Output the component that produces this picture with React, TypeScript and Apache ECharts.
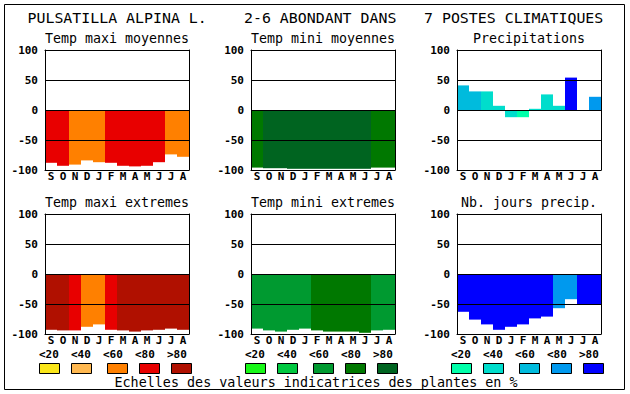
import React, { useEffect, useRef } from 'react';
import * as echarts from 'echarts';

const months = ['S', 'O', 'N', 'D', 'J', 'F', 'M', 'A', 'M', 'J', 'J', 'A'];
const headerTexts = ['PULSATILLA ALPINA L.', '2-6 ABONDANT DANS', '7 POSTES CLIMATIQUES'];
const panelTitles = [
  'Temp maxi moyennes',
  'Temp mini moyennes',
  'Precipitations',
  'Temp maxi extremes',
  'Temp mini extremes',
  'Nb. jours precip.',
];
const scaleLabels = ['<20', '<40', '<60', '<80', '>80'];
const footerText = 'Echelles des valeurs indicatrices des plantes en %';

// values (bar ends) and class index (0..4) for the colour scale
const tempMaxiMoy = [-88, -93, -91, -84, -87, -88, -93, -94, -93, -87, -74, -78];
const tempMaxiMoyCls = [3, 3, 2, 2, 2, 3, 3, 3, 3, 3, 2, 2];
const tempMiniMoy = [-96, -97, -97, -98, -98, -98, -98, -98, -98, -98, -96, -96];
const tempMiniMoyCls = [3, 4, 4, 4, 4, 4, 4, 4, 4, 4, 3, 3];
const precip = [41, 31, 31, 7, -12, -12, 2, 26, 7, 54, 0, 22];
const precipCls = [2, 2, 1, 1, 1, 0, 1, 1, 1, 4, 1, 3];
const tempMaxiExt = [-93, -94, -94, -88, -84, -93, -94, -96, -94, -93, -91, -93];
const tempMaxiExtCls = [4, 4, 3, 2, 2, 3, 4, 4, 4, 4, 4, 4];
const tempMiniExt = [-91, -94, -96, -93, -91, -94, -96, -96, -96, -98, -94, -93];
const tempMiniExtCls = [2, 2, 2, 2, 2, 3, 3, 3, 3, 3, 2, 2];
const joursPrec = [-63, -76, -84, -93, -88, -84, -74, -71, -57, -42, -50, -50];
const joursPrecCls = [4, 4, 4, 4, 4, 4, 4, 4, 3, 3, 4, 4];

const reds = ['#FAE619', '#FFB850', '#FF8000', '#E80000', '#B01000'];
const greens = ['#18F818', '#00C840', '#009A30', '#007800', '#006420'];
const blues = ['#00FFAA', '#00DDCC', '#00BBDD', '#0099EE', '#0000FF'];

const panelValues = [tempMaxiMoy, tempMiniMoy, precip, tempMaxiExt, tempMiniExt, joursPrec];
const panelClasses = [tempMaxiMoyCls, tempMiniMoyCls, precipCls, tempMaxiExtCls, tempMiniExtCls, joursPrecCls];
const palettes = [reds, greens, blues];

const MONO = '"DejaVu Sans Mono", "Liberation Mono", monospace';

export default function App() {
  const ref = useRef<HTMLDivElement>(null);
  useEffect(() => {
    if (!ref.current) return;
    const chart = echarts.init(ref.current, null, { renderer: 'svg' });
    const lefts = [45, 251, 457];
    const tops = [50, 214];
    const W = 144;
    const H = 120;

    const grid: any[] = [];
    const xAxis: any[] = [];
    const yAxis: any[] = [];
    const series: any[] = [];
    const graphic: any[] = [];

    for (let p = 0; p < 6; p++) {
      const col = p % 3;
      const row = Math.floor(p / 3);
      const pal = palettes[col];
      grid.push({ left: lefts[col], top: tops[row], width: W, height: H, containLabel: false });
      xAxis.push({
        type: 'category',
        gridIndex: p,
        data: months,
        position: 'bottom',
        z: 10,
        axisLine: { show: true, onZero: false, lineStyle: { color: '#000', width: 1 } },
        axisTick: { show: false },
        axisLabel: {
          show: true,
          margin: 1,
          color: '#000',
          fontFamily: MONO,
          fontWeight: 'bold',
          fontSize: 11,
          interval: 0,
        },
        splitLine: { show: false },
      });
      xAxis.push({
        type: 'category',
        gridIndex: p,
        data: months,
        position: 'top',
        z: 10,
        axisLine: { show: true, onZero: false, lineStyle: { color: '#000', width: 1 } },
        axisTick: { show: false },
        axisLabel: { show: false },
        splitLine: { show: false },
      });
      yAxis.push({
        type: 'value',
        gridIndex: p,
        min: -100,
        max: 100,
        interval: 50,
        position: 'left',
        z: 10,
        axisLine: { show: true, lineStyle: { color: '#000', width: 1 } },
        axisTick: { show: false },
        axisLabel: {
          show: true,
          margin: 7,
          color: '#000',
          fontFamily: MONO,
          fontWeight: 'bold',
          fontSize: 11,
        },
        splitLine: { show: true, lineStyle: { color: '#000', width: 1 } },
      });
      yAxis.push({
        type: 'value',
        gridIndex: p,
        min: -100,
        max: 100,
        interval: 50,
        position: 'right',
        z: 10,
        axisLine: { show: true, lineStyle: { color: '#000', width: 1 } },
        axisTick: { show: false },
        axisLabel: { show: false },
        splitLine: { show: false },
      });
      series.push({
        type: 'bar',
        xAxisIndex: p * 2,
        yAxisIndex: p * 2,
        barCategoryGap: '0%',
        barGap: '0%',
        silent: true,
        data: panelValues[p].map((v, i) => ({
          value: v,
          itemStyle: { color: pal[panelClasses[p][i]] },
        })),
      });

      graphic.push({
        type: 'text',
        x: lefts[col] + W / 2,
        y: row === 0 ? 38.5 : 202.5,
        style: {
          text: panelTitles[p],
          fill: '#000',
          font: `13.3px ${MONO}`,
          align: 'center',
          verticalAlign: 'middle',
        },
      });
    }

    // header
    const headerX = [27.5, 244, 424];
    headerTexts.forEach((t, i) => {
      graphic.push({
        type: 'text',
        x: headerX[i],
        y: 18,
        style: { text: t, fill: '#000', font: `14.9px ${MONO}`, align: 'left', verticalAlign: 'middle' },
      });
    });

    // colour-scale legends
    const labelOff = [-6, 26, 58, 90, 122];
    const boxOff = [-6, 26, 62, 94, 126];
    for (let col = 0; col < 3; col++) {
      const pal = palettes[col];
      scaleLabels.forEach((lab, k) => {
        graphic.push({
          type: 'text',
          x: lefts[col] + labelOff[k],
          y: 354,
          style: {
            text: lab,
            fill: '#000',
            font: `bold 11px ${MONO}`,
            align: 'left',
            verticalAlign: 'middle',
          },
        });
        graphic.push({
          type: 'rect',
          shape: { x: lefts[col] + boxOff[k] + 0.5, y: 363.5, width: 20, height: 10 },
          style: { fill: pal[k], stroke: '#000', lineWidth: 1 },
        });
      });
    }

    graphic.push({
      type: 'text',
      x: 316,
      y: 382.5,
      style: { text: footerText, fill: '#000', font: `13.4px ${MONO}`, align: 'center', verticalAlign: 'middle' },
    });

    graphic.push({
      type: 'rect',
      shape: { x: 4.5, y: 4.5, width: 620, height: 385 },
      style: { fill: 'none', stroke: '#000', lineWidth: 1 },
    });

    chart.setOption({
      animation: false,
      backgroundColor: '#fff',
      grid,
      xAxis,
      yAxis,
      series,
      graphic,
    });
    return () => chart.dispose();
  }, []);

  return (
    <div
      ref={ref}
      style={{ position: 'fixed', left: 0, top: 0, width: 630, height: 394, background: '#fff' }}
    />
  );
}
